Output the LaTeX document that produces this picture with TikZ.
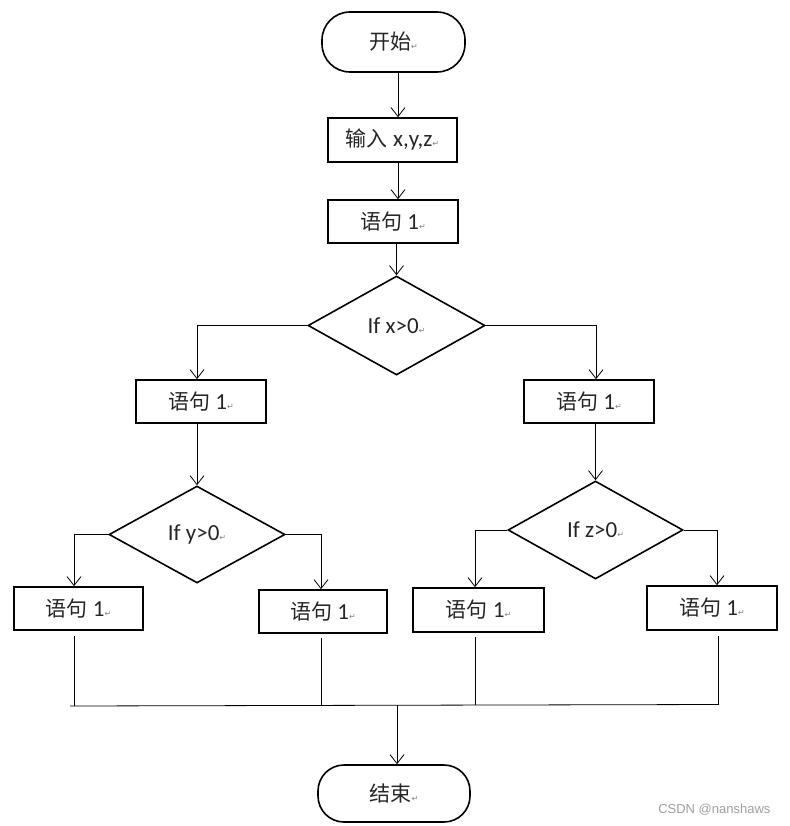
\documentclass[tikz,border=0pt]{standalone}
\usepackage{fontspec}
\setmainfont{Carlito}
\newfontfamily\cjk{Noto Sans CJK SC}
\newfontfamily\dejavu{DejaVu Sans}
\newfontfamily\wmfont{Liberation Sans}
\usetikzlibrary{shapes.geometric,arrows.meta,calc}
\newcommand\rmk{{\dejavu\fontsize{8}{8}\selectfont\color{gray}↵}}
\newcommand\zh[1]{{\cjk\fontsize{21}{24}\selectfont #1}}
\begin{document}
\begin{tikzpicture}[x=1pt,y=-1pt,
  box/.style={draw,line width=1.6pt,inner sep=0pt,text=black!85,font=\fontsize{23}{26}\selectfont},
  term/.style={box,rounded corners=28pt},
  dec/.style={draw,diamond,line width=1.6pt,inner sep=0pt,text=black!85,font=\fontsize{23}{26}\selectfont},
  arr/.style={line width=0.8pt,-{Straight Barb[length=9pt,width=14pt]}},
  ln/.style={line width=0.8pt}]
\useasboundingbox (0,0) rectangle (789,826);
\fill[white] (0,0) rectangle (789,826);

\node[term,minimum width=143pt,minimum height=60pt] (start) at (393.5,42) {\zh{开始}\rmk};
\node[box,minimum width=129pt,minimum height=44pt] (input) at (392.5,140) {\zh{输入} x,y,z\rmk};
\node[box,minimum width=130pt,minimum height=43pt] (s0) at (393,221.5) {\zh{语句} 1\rmk};
\node[dec,minimum width=177pt,minimum height=99pt] (d1) at (396.5,325.5) {If x>0\rmk};
\node[box,minimum width=130pt,minimum height=43pt] (L1) at (201,401.5) {\zh{语句} 1\rmk};
\node[box,minimum width=130pt,minimum height=43pt] (R1) at (589,401.5) {\zh{语句} 1\rmk};
\node[dec,minimum width=176pt,minimum height=97pt] (dy) at (197,534.5) {If y>0\rmk};
\node[dec,minimum width=175pt,minimum height=98pt] (dz) at (595.5,530) {If z>0\rmk};
\node[box,minimum width=129pt,minimum height=43pt] (LL) at (78.5,608.5) {\zh{语句} 1\rmk};
\node[box,minimum width=128pt,minimum height=43pt] (LR) at (323,611.5) {\zh{语句} 1\rmk};
\node[box,minimum width=131pt,minimum height=44pt] (RL) at (478.5,610) {\zh{语句} 1\rmk};
\node[box,minimum width=130pt,minimum height=44pt] (RR) at (712,608) {\zh{语句} 1\rmk};
\node[term,minimum width=152pt,minimum height=57pt,rounded corners=26pt] (end) at (394,793.5) {\zh{结束}\rmk};

\node[font=\wmfont\fontsize{13}{14}\selectfont,text=gray!75,anchor=east] (wm) at (774,810) {CSDN @nanshaws};

% main column
\draw[arr] ($(start.south)+(4.5,0)$) -- ($(input.north)+(5.5,0)$);
\draw[arr] ($(input.south)+(5.5,0)$) -- ($(s0.north)+(5,0)$);
\draw[arr] (s0.south -| d1.north) -- (d1.north);

% first decision
\draw[arr] (d1.west) -| ($(L1.north)+(-4,0)$);
\draw[arr] (d1.east) -| ($(R1.north)+(7,0)$);
\draw[arr] (L1.south -| dy.north) -- (dy.north);
\draw[arr] (R1.south -| dz.north) -- (dz.north);

% second level decisions
\draw[arr] (dy.west) -| ($(LL.north)+(-4.5,0)$);
\draw[arr] (dy.east) -| ($(LR.north)+(-2,0)$);
\draw[arr] (dz.west) -| ($(RL.north)+(-3.5,0)$);
\draw[arr] (dz.east) -| ($(RR.north)+(5,0)$);

% merge bus
\coordinate (b0) at (70,706);
\coordinate (b1) at (74,705.5);
\coordinate (b2) at (321,705);
\coordinate (b3) at (475,705);
\coordinate (b4) at (718,704.5);
\coordinate (bm) at (397,705);
\draw[ln] ($(LL.south)+(-4.5,5)$) -- (b1);
\draw[ln] (LR.south -| b2) ++(0,4) -- (b2);
\draw[ln] (RL.south -| b3) ++(0,4) -- (b3);
\draw[ln] (RR.south -| b4) ++(0,5) -- (b4);
\draw[ln] (b0) -- (b4);
\draw[arr] (bm) -- (end.north -| bm);
\end{tikzpicture}
\end{document}
